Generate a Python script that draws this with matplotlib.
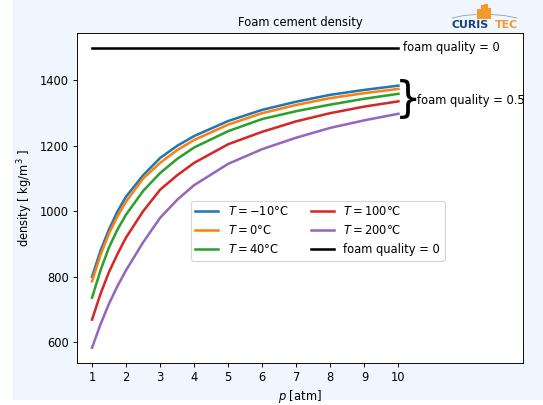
import matplotlib
matplotlib.use("Agg")
import matplotlib.pyplot as plt
from matplotlib.patches import Rectangle
from matplotlib.lines import Line2D

# pressure [atm] and foam density [kg/m3] for foam quality 0.5
p = [1, 1.25, 1.5, 1.75, 2, 2.5, 3, 3.5, 4, 5, 6, 7, 8, 9, 10]
rho_m10 = [800, 880, 945, 1000, 1045, 1110, 1163, 1200, 1230, 1276, 1310, 1335, 1356, 1371, 1384]
rho_0 = [786, 867, 933, 985, 1030, 1100, 1148, 1187, 1218, 1265, 1300, 1325, 1346, 1361, 1374]
rho_40 = [736, 820, 890, 945, 990, 1062, 1117, 1160, 1195, 1245, 1282, 1306, 1326, 1344, 1359]
rho_100 = [669, 748, 815, 870, 920, 1000, 1066, 1110, 1148, 1205, 1243, 1275, 1300, 1320, 1336]
rho_200 = [583, 655, 718, 772, 820, 905, 980, 1035, 1080, 1145, 1190, 1225, 1255, 1278, 1298]

# plain cement slurry (no gas)
p_q0 = [1, 10]
rho_q0 = [1500, 1500]

curves = [
    (rho_m10, "$T = -10$°C"),
    (rho_0, "$T = 0$°C"),
    (rho_40, "$T = 40$°C"),
    (rho_100, "$T = 100$°C"),
    (rho_200, "$T = 200$°C"),
]

W, H = 543, 405
DPI = 83


def fx(x):
    return x / W


def fy(y):
    return 1 - y / H


fig = plt.figure(figsize=(W / DPI, H / DPI), dpi=DPI, facecolor="white")
fig.add_artist(Rectangle((fx(13), 0.0148), 1 - fx(13), 1 - 0.0148,
                         transform=fig.transFigure, color="#eff6fd", zorder=-10))

ax = fig.add_axes([0.1413, 0.1044, 0.9632 - 0.1413, 0.9193 - 0.1044])

for rho, lab in curves:
    ax.plot(p, rho, lw=2.2, label=lab)
ax.plot(p_q0, rho_q0, color="black", lw=2.2, label="foam quality = 0")

ax.set_xlim(0.55, 13.66)
ax.set_xticks(range(1, 11))
ax.set_xlabel("$p$ [atm]")
ax.set_ylabel("density [ kg/m$^3$ ]")
ax.set_title("Foam cement density", fontsize=10)

ax.text(10.14, 1500, "foam quality = 0", va="center", ha="left")
ax.text(10.27, 1341, "}", va="center", ha="center", fontsize=36)
ax.text(10.55, 1339, "foam quality = 0.5", va="center", ha="left")

ax.legend(ncol=2, loc="center", bbox_to_anchor=(0.54, 0.40))

# company logo in the top right corner
fig.add_artist(Line2D([fx(452), fx(464), fx(476)], [fy(18), fy(15.5), fy(14.5)],
                      transform=fig.transFigure, color="#9aa8b8", lw=0.8))
fig.add_artist(Line2D([fx(491), fx(504), fx(517)], [fy(14.5), fy(15.5), fy(18)],
                      transform=fig.transFigure, color="#9aa8b8", lw=0.8))
for x0, top in zip([477, 480.5, 484, 487.5], [9, 5, 4, 8]):
    fig.add_artist(Rectangle((fx(x0), fy(17.5)), 2.8 / W, (17.5 - top) / H,
                             transform=fig.transFigure, color="#f29a2e"))
fig.text(fx(451), fy(24.5), "CURIS", color="#1c3f7a", fontsize=9.5, fontweight="bold",
         va="center", ha="left", fontstretch="expanded")
fig.text(fx(518), fy(24.5), "TEC", color="#f29a2e", fontsize=9.5, fontweight="bold",
         va="center", ha="right")

fig.savefig("out.png", dpi=DPI, facecolor=fig.get_facecolor())
